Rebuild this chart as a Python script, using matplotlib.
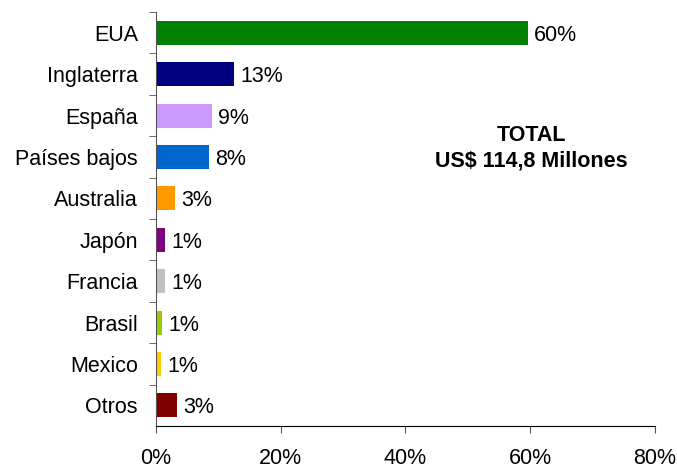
import matplotlib.pyplot as plt
from matplotlib.ticker import FuncFormatter

paises = ["EUA", "Inglaterra", "España", "Países bajos", "Australia",
          "Japón", "Francia", "Brasil", "Mexico", "Otros"]
valores = [59.6, 12.5, 9.0, 8.5, 3.0, 1.4, 1.4, 1.0, 0.8, 3.4]
etiquetas = ["60%", "13%", "9%", "8%", "3%", "1%", "1%", "1%", "1%", "3%"]
colores = ["#008000", "#000080", "#CC99FF", "#0066CC", "#FF9900",
           "#800080", "#C0C0C0", "#99CC00", "#FFCC00", "#800000"]

plt.rcParams['font.family'] = ['Liberation Sans', 'DejaVu Sans']
fs = 15.5

fig = plt.figure(figsize=(6.77, 4.68), dpi=100)
ax = fig.add_axes([0.2304, 0.0897, 0.7371, 0.8846])

pos = list(range(len(paises)))[::-1]
ax.barh(pos, valores, height=0.58, color=colores)

for y, v, t in zip(pos, valores, etiquetas):
    ax.text(v + 1.0, y, t, va="center_baseline", ha="left", fontsize=fs)

ax.set_xlim(0, 80)
ax.set_ylim(-0.5, len(paises) - 0.5)
ax.set_xticks([0, 20, 40, 60, 80])
ax.xaxis.set_major_formatter(FuncFormatter(lambda x, p: f"{x:.0f}%"))
ax.set_yticks(pos)
ax.set_yticklabels(paises, fontsize=fs)
ax.set_yticks([p + 0.5 for p in range(len(paises))], minor=True)
ax.tick_params(axis="y", which="major", length=0, pad=13)
ax.tick_params(axis="y", which="minor", length=5, color="#555555")
ax.tick_params(axis="x", length=5, labelsize=fs, pad=10.5, color="#555555")

for s in ["top", "right"]:
    ax.spines[s].set_visible(False)
ax.spines["left"].set_color("#555555")
ax.spines["bottom"].set_color("black")

ax.text(0.753, 0.671, "TOTAL\nUS$ 114,8 Millones", transform=ax.transAxes,
        ha="center", va="center", fontsize=fs, fontweight="bold", linespacing=1.25)

fig.savefig("out.png", dpi=100)
